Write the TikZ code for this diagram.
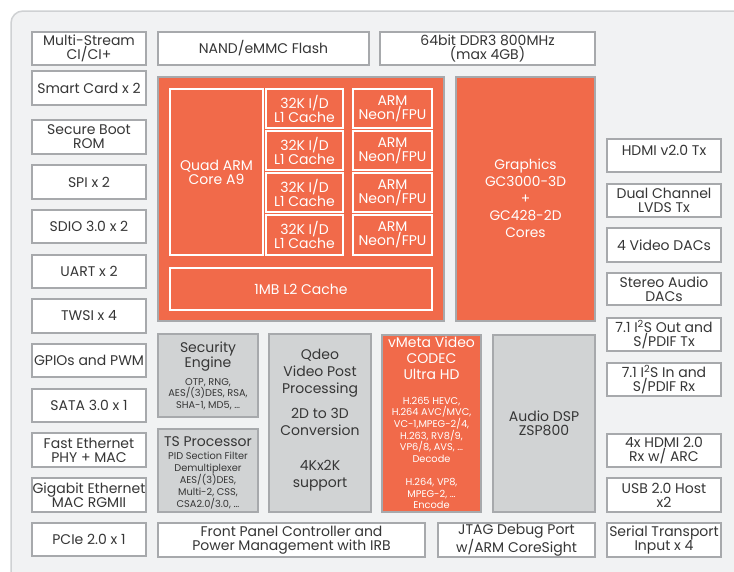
\documentclass[tikz,border=0pt]{standalone}
\usepackage{fontspec}
\setmainfont{Poppins}
\definecolor{panelfill}{HTML}{F1F2F3}
\definecolor{panelline}{HTML}{CFD1D3}
\definecolor{boxline}{HTML}{A7A9AC}
\definecolor{orng}{HTML}{F16A4A}
\definecolor{gfill}{HTML}{D1D3D4}
\definecolor{txt}{HTML}{363636}
\newcommand\mainf{\fontsize{14}{14}\selectfont}
\newcommand\smallf{\fontsize{9.8}{11.6}\selectfont}
\newcommand\blk[7]{%
  \node[#1, minimum width={#5-#3-2.4}, minimum height={#6-#4-2.4}] (#2) at ({(#3+#5)/2},{(#4+#6)/2}) {#7};}
\newcommand\iblk[7]{%
  \node[#1, minimum width={#5-#3-1.8}, minimum height={#6-#4-1.8}] (#2) at ({(#3+#5)/2},{(#4+#6)/2}) {#7};}
\begin{document}
\begin{tikzpicture}[x=1pt,y=-1pt,
  wbox/.style={draw=boxline, line width=2.4pt, fill=white, text=txt, align=center, inner sep=0pt, font=\mainf},
  obox/.style={draw=boxline, line width=2.4pt, fill=orng, text=white, align=center, inner sep=0pt, font=\mainf},
  gbox/.style={draw=boxline, line width=2.4pt, fill=gfill, text=txt, align=center, inner sep=0pt, font=\mainf},
  ibox/.style={draw=white, line width=1.8pt, text=white, align=center, inner sep=0pt, font=\mainf},
  lbl/.style={text=txt, align=center, inner sep=0pt},
  olbl/.style={text=white, align=center, inner sep=0pt}]
\clip (0,0) rectangle (734,571);
\fill[white] (0,0) rectangle (734,571);
\draw[panelline, fill=panelfill, line width=1.5pt, rounded corners=12pt] (11,11) rectangle (800,640);
% left column
\blk{wbox}{ms}{31}{31}{147}{66}{Multi-Stream\\CI/CI+}
\blk{wbox}{sc}{31}{70}{147}{106}{Smart Card x 2}
\blk{wbox}{sb}{31}{119}{147}{155}{Secure Boot\\ROM}
\blk{wbox}{spi}{31}{164}{147}{200}{SPI x 2}
\blk{wbox}{sdio}{31}{209}{147}{244}{SDIO 3.0 x 2}
\blk{wbox}{uart}{31}{254}{147}{289}{UART x 2}
\blk{wbox}{twsi}{31}{298}{147}{334}{TWSI x 4}
\blk{wbox}{gpio}{31}{343}{147}{378}{GPIOs and PWM}
\blk{wbox}{sata}{31}{388}{147}{423}{SATA 3.0 x 1}
\blk{wbox}{fe}{31}{432}{147}{468}{Fast Ethernet\\PHY + MAC}
\blk{wbox}{ge}{31}{477}{147}{513}{Gigabit Ethernet\\MAC RGMII}
\blk{wbox}{pcie}{31}{522}{147}{557}{PCIe 2.0 x 1}
% top row
\blk{wbox}{nand}{157}{31}{370}{66}{NAND/eMMC Flash}
\blk{wbox}{ddr}{379}{31}{596}{66}{64bit DDR3 800MHz\\(max 4GB)}
% CPU block
\blk{obox}{cpu}{157}{76}{445}{322}{}
\iblk{ibox}{quad}{169}{88}{264}{256}{Quad ARM\\Core A9}
\iblk{ibox}{la}{265}{88}{344}{129}{32K I/D\\L1 Cache}
\iblk{ibox}{lb}{265}{130}{344}{171}{32K I/D\\L1 Cache}
\iblk{ibox}{lc}{265}{172}{344}{213}{32K I/D\\L1 Cache}
\iblk{ibox}{ld}{265}{214}{344}{256}{32K I/D\\L1 Cache}
\iblk{ibox}{na}{352}{88}{433}{129}{ARM\\Neon/FPU}
\iblk{ibox}{nb}{352}{130}{433}{171}{ARM\\Neon/FPU}
\iblk{ibox}{nc}{352}{172}{433}{213}{ARM\\Neon/FPU}
\iblk{ibox}{nd}{352}{214}{433}{256}{ARM\\Neon/FPU}
\iblk{ibox}{l2}{169}{267}{433}{311}{1MB L2 Cache}
% graphics
\blk{obox}{gfx}{455}{76}{596}{322}{}
\node[olbl, font=\fontsize{13.8}{17}\selectfont] (gfxt) at (525.5,198.5) {Graphics\\GC3000-3D\\+\\GC428-2D\\Cores};
% right column
\blk{wbox}{hdmitx}{606}{138}{722}{173}{}
\node[lbl, font=\mainf] (hdmitxt) at (664,150) {HDMI v2.0 Tx};
\blk{wbox}{lvds}{606}{183}{722}{218}{Dual Channel\\LVDS Tx}
\blk{wbox}{vdac}{606}{227}{722}{263}{4 Video DACs}
\blk{wbox}{adac}{606}{272}{722}{306}{Stereo Audio\\DACs}
\blk{wbox}{i2so}{606}{317}{722}{352}{7.1 I\textsuperscript{2}S Out and\\S/PDIF Tx}
\blk{wbox}{i2si}{606}{362}{722}{397}{7.1 I\textsuperscript{2}S In and\\S/PDIF Rx}
\blk{wbox}{hdmirx}{606}{433}{722}{468}{4x HDMI 2.0\\Rx w/ ARC}
\blk{wbox}{usb}{606}{477}{722}{513}{USB 2.0 Host\\x2}
\blk{wbox}{sti}{606}{522}{722}{558}{Serial Transport\\Input x 4}
% middle section
\blk{gbox}{sec}{157}{333}{259}{418}{}
\node[lbl, font=\fontsize{14}{15}\selectfont] (sect) at (208,356.5) {Security\\Engine};
\node[lbl, font=\smallf] (secd) at (208,394) {OTP, RNG,\\AES/(3)DES, RSA,\\SHA-1, MD5, \ldots};
\blk{gbox}{ts}{157}{428}{259}{513}{}
\node[lbl, font=\mainf] (tst) at (208,442) {TS Processor};
\node[lbl, font=\smallf] (tsd) at (208,480.4) {PID Section Filter\\Demultiplexer\\AES/(3)DES,\\Multi-2, CSS,\\CSA2.0/3.0, \ldots};
\blk{gbox}{qdeo}{268}{333}{372}{513}{}
\node[lbl, font=\fontsize{14}{17}\selectfont] (qdeot) at (320,420) {Qdeo\\Video Post\\Processing\\[8pt]2D to 3D\\Conversion\\[18pt]4Kx2K\\support};
\blk{obox}{vmeta}{381}{334}{482}{513}{}
\node[olbl, font=\fontsize{14}{16}\selectfont] (vmt) at (431.5,358) {vMeta Video\\CODEC\\Ultra HD};
\node[olbl, font=\smallf] (vmd) at (431.5,453) {H.265 HEVC,\\H.264 AVC/MVC,\\VC-1,MPEG-2/4,\\H.263, RV8/9,\\VP6/8, AVS, \ldots\\Decode\\[11.6pt]H.264, VP8,\\MPEG-2, \ldots\\Encode};
\blk{gbox}{dsp}{492}{334}{596}{513}{Audio DSP\\ZSP800}
% bottom row
\blk{wbox}{fp}{157}{522}{426}{558}{Front Panel Controller and\\Power Management with IRB}
\blk{wbox}{jtag}{437}{522}{596}{558}{JTAG Debug Port\\w/ARM CoreSight}
\end{tikzpicture}
\end{document}
